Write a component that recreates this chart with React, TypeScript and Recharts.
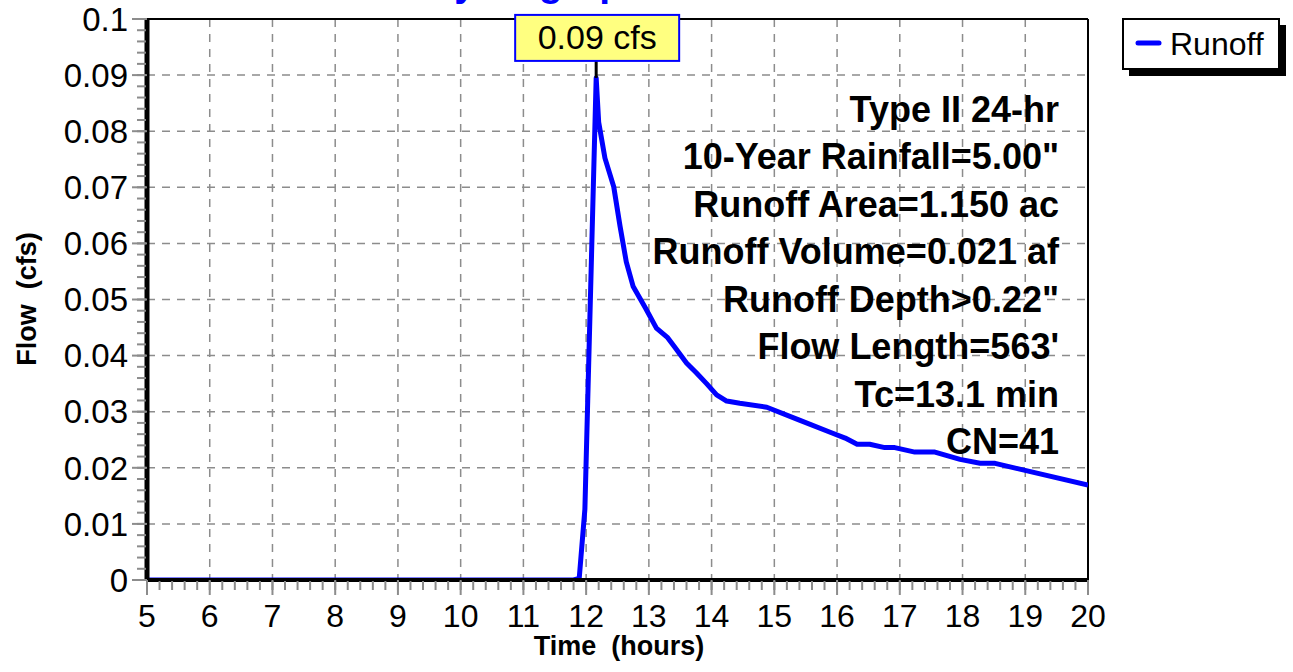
import React from 'react';
import {
  LineChart,
  Line,
  XAxis,
  YAxis,
  CartesianGrid,
  ReferenceLine,
  ReferenceDot,
  Legend,
} from 'recharts';

// ---- data ----
const hours = [
  5, 11.8, 11.89, 11.98, 12.16, 12.2, 12.3, 12.44, 12.54, 12.64, 12.75, 12.95,
  13.12, 13.3, 13.42, 13.6, 13.76, 13.92, 14.08, 14.24, 14.45, 14.88, 15.4,
  15.9, 16.13, 16.32, 16.52, 16.76, 16.92, 17.24, 17.56, 17.96, 18.28, 18.52, 20,
];
const flow = [
  0, 0, 0.0003, 0.0126, 0.0895, 0.0816, 0.0752, 0.0701, 0.0631, 0.0567, 0.0523,
  0.0484, 0.0449, 0.0432, 0.0414, 0.0387, 0.0369, 0.035, 0.033, 0.0319, 0.0315,
  0.0308, 0.0285, 0.0263, 0.0253, 0.0242, 0.0242, 0.0236, 0.0236, 0.0228,
  0.0228, 0.0215, 0.0208, 0.0208, 0.0169,
];
const xTicks = [5, 6, 7, 8, 9, 10, 11, 12, 13, 14, 15, 16, 17, 18, 19, 20];
const yTicks = [0, 0.01, 0.02, 0.03, 0.04, 0.05, 0.06, 0.07, 0.08, 0.09, 0.1];
const xMinorTicks = Array.from({ length: 76 }, (_, i) => 5 + i * 0.2);
const yMinorTicks = Array.from({ length: 51 }, (_, i) => i * 0.002);
const peakHour = 12.16;
const peakFlow = 0.0895;
const peakLabel = '0.09 cfs';
const seriesName = 'Runoff';
const titleText = 'Hydrograph';
const infoLines = [
  'Type II 24-hr',
  '10-Year Rainfall=5.00"',
  'Runoff Area=1.150 ac',
  'Runoff Volume=0.021 af',
  'Runoff Depth>0.22"',
  "Flow Length=563'",
  'Tc=13.1 min',
  'CN=41',
];

const data = hours.map((h, i) => ({ h, q: flow[i] }));

const FONT = "'Liberation Sans', Arial, Helvetica, sans-serif";
const GRID = '#8c8c8c';

const fmtY = (v: number) => (v === 0 ? '0' : String(Number(v.toFixed(3))));

// tick geometry
const MAJ = 15;
const MIN = 9;
const XGAP = 9;
const YGAP = 4;

const XMajorTick = (props: any) => {
  const { x, y, payload } = props;
  const ay = y - MAJ - XGAP;
  return (
    <g>
      <line x1={x} x2={x} y1={ay} y2={ay + MAJ} stroke={GRID} strokeWidth={2} />
      <text x={x} y={y} dy="0.71em" textAnchor="middle" fontSize={32} fill="#000" fontFamily={FONT}>
        {payload.value}
      </text>
    </g>
  );
};

const YMajorTick = (props: any) => {
  const { x, y, payload } = props;
  const ax = x + MAJ + YGAP;
  return (
    <g>
      <line x1={ax - MAJ} x2={ax} y1={y} y2={y} stroke={GRID} strokeWidth={2} />
      <text x={x} y={y} dy="0.355em" textAnchor="end" fontSize={33} fill="#000" fontFamily={FONT}>
        {fmtY(payload.value)}
      </text>
    </g>
  );
};

const XMinorTick = (props: any) => {
  const { x, y } = props;
  return <line x1={x} x2={x} y1={y - MIN} y2={y} stroke={GRID} strokeWidth={2} />;
};

const YMinorTick = (props: any) => {
  const { x, y } = props;
  return <line x1={x} x2={x + MIN} y1={y} y2={y} stroke={GRID} strokeWidth={2} />;
};

const PeakShape = (props: any) => {
  const { cx, cy } = props;
  if (cx == null || cy == null) return null;
  const w = 164;
  const h = 46;
  const bottom = cy - 17;
  return (
    <g>
      <line x1={cx} x2={cx} y1={bottom} y2={cy} stroke="#000" strokeWidth={3} />
      <rect
        x={cx - 81}
        y={bottom - h}
        width={w}
        height={h}
        fill="#FFFF80"
        stroke="#0000FF"
        strokeWidth={2}
      />
      <text
        x={cx + 1}
        y={bottom - 12}
        textAnchor="middle"
        fontSize={34}
        fontFamily={FONT}
        fill="#000"
      >
        {peakLabel}
      </text>
    </g>
  );
};

const LegendContent = () => (
  <svg width={170} height={62} style={{ display: 'block' }}>
    <rect x={7} y={7} width={157} height={51} fill="#000" />
    <rect x={1} y={1} width={156} height={50} fill="#fff" stroke="#000" strokeWidth={2} />
    <line x1={16} x2={37} y1={25} y2={25} stroke="#0000FF" strokeWidth={5} strokeLinecap="round" />
    <text x={48} y={37} fontSize={32} fontFamily={FONT} fill="#000">
      {seriesName}
    </text>
  </svg>
);

export default function App() {
  return (
    <div style={{ position: 'absolute', left: 0, top: 0, width: 1293, height: 672, background: '#fff' }}>
      <LineChart
        width={1293}
        height={672}
        data={data}
        margin={{ top: 19, right: 205, bottom: 90, left: 145 }}
        style={{ fontFamily: FONT }}
      >
        <CartesianGrid
          stroke={GRID}
          strokeWidth={1.5}
          strokeDasharray="8 7"
          horizontal
          vertical
        />
        <XAxis
          xAxisId="minor"
          type="number"
          dataKey="h"
          domain={[5, 20]}
          ticks={xMinorTicks}
          interval={0}
          tick={XMinorTick}
          tickSize={MIN}
          tickMargin={0}
          tickLine={false}
          axisLine={false}
          height={1}
          allowDataOverflow
        />
        <YAxis
          yAxisId="minor"
          type="number"
          domain={[0, 0.1]}
          ticks={yMinorTicks}
          interval={0}
          tick={YMinorTick}
          tickSize={MIN}
          tickMargin={0}
          tickLine={false}
          axisLine={false}
          width={1}
          allowDataOverflow
        />
        <XAxis
          type="number"
          dataKey="h"
          domain={[5, 20]}
          ticks={xTicks}
          interval={0}
          tick={XMajorTick}
          tickSize={MAJ}
          tickMargin={XGAP}
          tickLine={false}
          stroke="#000"
          axisLine={{ stroke: '#000', strokeWidth: 4 }}
          height={1}
          allowDataOverflow
        />
        <YAxis
          type="number"
          domain={[0, 0.1]}
          ticks={yTicks}
          interval={0}
          tick={YMajorTick}
          tickSize={MAJ}
          tickMargin={YGAP}
          tickLine={false}
          stroke="#000"
          axisLine={{ stroke: '#000', strokeWidth: 5 }}
          width={1}
          allowDataOverflow
        />
        <ReferenceLine y={0.1} stroke="#000" strokeWidth={2} />
        <ReferenceLine x={20} stroke="#000" strokeWidth={2} />
        <Line
          type="linear"
          dataKey="q"
          name={seriesName}
          stroke="#0000FF"
          strokeWidth={5}
          dot={false}
          activeDot={false}
          isAnimationActive={false}
          strokeLinejoin="round"
        />
        <ReferenceDot x={peakHour} y={peakFlow} r={0} shape={PeakShape} />
        <Legend
          layout="horizontal"
          align="center"
          verticalAlign="middle"
          content={LegendContent}
          wrapperStyle={{ left: 1122, top: 18, width: 170, height: 62 }}
        />
        <g>
          <text x={426} y={-4} fontSize={39} fontWeight="bold" fill="#0000FF" fontFamily={FONT}>
            {titleText}
          </text>
          {infoLines.map((t, i) => (
            <text
              key={t}
              x={1059}
              y={121.7 + i * 47.5}
              textAnchor="end"
              fontSize={36}
              fontWeight="bold"
              fill="#000"
              fontFamily={FONT}
            >
              {t}
            </text>
          ))}
          <text
            x={619}
            y={655}
            textAnchor="middle"
            fontSize={27}
            fontWeight="bold"
            fill="#000"
            fontFamily={FONT}
            style={{ whiteSpace: 'pre' }}
          >
            {'Time  (hours)'}
          </text>
          <text
            transform="translate(36,299) rotate(-90)"
            textAnchor="middle"
            fontSize={27}
            fontWeight="bold"
            fill="#000"
            fontFamily={FONT}
            style={{ whiteSpace: 'pre' }}
          >
            {'Flow  (cfs)'}
          </text>
        </g>
      </LineChart>
    </div>
  );
}
